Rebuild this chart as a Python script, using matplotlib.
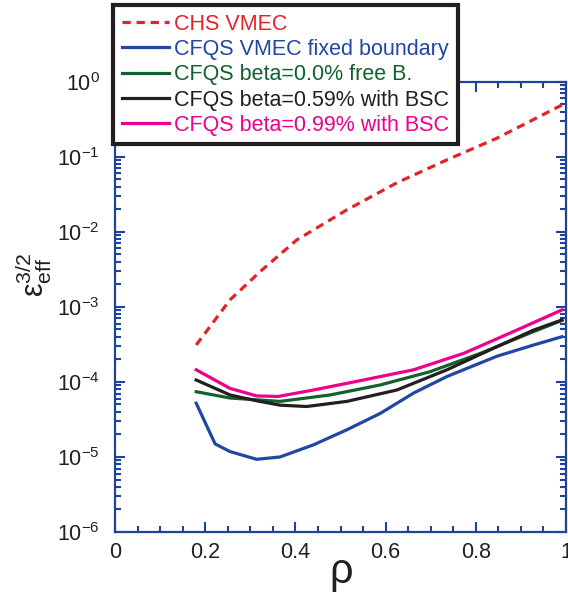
import matplotlib
matplotlib.use("Agg")
import matplotlib.pyplot as plt
import numpy as np
from matplotlib.ticker import MultipleLocator, LogLocator, NullFormatter

plt.rcParams['font.family'] = ['Liberation Sans', 'DejaVu Sans']
plt.rcParams['mathtext.fontset'] = 'custom'
plt.rcParams['mathtext.rm'] = 'Liberation Sans'
plt.rcParams['mathtext.it'] = 'Liberation Sans:italic'
plt.rcParams['mathtext.bf'] = 'Liberation Sans:bold'
plt.rcParams['axes.unicode_minus'] = False

# Data
rho_chs = [0.18, 0.255, 0.322, 0.403, 0.514, 0.625, 0.736, 0.847, 0.991]
eps_chs = [3.1e-4, 1.24e-3, 2.96e-3, 7.8e-3, 1.96e-2, 4.5e-2, 9.1e-2, 0.177, 0.49]

rho_fixed = [0.18, 0.222, 0.255, 0.314, 0.366, 0.44, 0.514, 0.588, 0.662, 0.736, 0.847, 0.928, 0.991]
eps_fixed = [5.2e-5, 1.49e-5, 1.18e-5, 9.3e-6, 1.0e-5, 1.45e-5, 2.3e-5, 3.8e-5, 7.1e-5, 1.18e-4, 2.2e-4, 3.1e-4, 4.0e-4]

rho_free = [0.18, 0.255, 0.366, 0.477, 0.588, 0.699, 0.81, 0.921, 0.991]
eps_free = [7.4e-5, 6.1e-5, 5.5e-5, 6.7e-5, 9.1e-5, 1.37e-4, 2.4e-4, 4.5e-4, 6.6e-4]

rho_b059 = [0.18, 0.255, 0.314, 0.366, 0.425, 0.514, 0.625, 0.736, 0.847, 0.928, 0.991]
eps_b059 = [1.06e-4, 6.7e-5, 5.6e-5, 4.9e-5, 4.7e-5, 5.5e-5, 7.8e-5, 1.45e-4, 2.95e-4, 4.9e-4, 6.7e-4]

rho_b099 = [0.18, 0.255, 0.314, 0.362, 0.44, 0.551, 0.662, 0.773, 0.884, 0.991]
eps_b099 = [1.45e-4, 8.2e-5, 6.5e-5, 6.4e-5, 7.8e-5, 1.06e-4, 1.45e-4, 2.4e-4, 4.7e-4, 9.1e-4]

labels = ["CHS VMEC", "CFQS VMEC fixed boundary", "CFQS beta=0.0% free B.",
          "CFQS beta=0.59% with BSC", "CFQS beta=0.99% with BSC"]
colors = ["#e1242a", "#1f47a3", "#13612e", "#231f20", "#ec008c"]

axis_blue = "#1d449a"
text_col = "#231f20"

fig = plt.figure(figsize=(5.68, 5.97), dpi=100)
ax = fig.add_axes([0.2025, 0.1089, 0.794, 0.7542])

lw = 2.3
ax.plot(rho_chs, eps_chs, color=colors[0], lw=lw, linestyle=(0, (2.6, 1.8)), label=labels[0])
ax.plot(rho_fixed, eps_fixed, color=colors[1], lw=lw, label=labels[1])
ax.plot(rho_free, eps_free, color=colors[2], lw=lw, label=labels[2])
ax.plot(rho_b059, eps_b059, color=colors[3], lw=lw, label=labels[3])
ax.plot(rho_b099, eps_b099, color=colors[4], lw=lw, label=labels[4])

ax.set_yscale("log")
ax.set_xlim(0, 1)
ax.set_ylim(1e-6, 1)

ax.xaxis.set_minor_locator(MultipleLocator(0.05))
ax.set_xticks([0, 0.2, 0.4, 0.6, 0.8, 1.0])
ax.set_xticklabels(["0", "0.2", "0.4", "0.6", "0.8", "1"])
ax.yaxis.set_major_locator(LogLocator(base=10, numticks=20))
ax.yaxis.set_minor_locator(LogLocator(base=10, subs=np.arange(2, 10), numticks=20))
ax.yaxis.set_minor_formatter(NullFormatter())

for s in ax.spines.values():
    s.set_color(axis_blue)
    s.set_linewidth(1.6)

ax.tick_params(which="both", direction="in", top=True, right=True,
               color=axis_blue, width=1.5, labelsize=15.5, labelcolor=text_col)
ax.tick_params(which="major", length=7.5)
ax.tick_params(which="minor", length=4.5)
ax.tick_params(axis="x", which="both", pad=7)
ax.tick_params(axis="y", which="both", pad=11)

fig.text(341 / 568, 1 - 572 / 597, "ρ", fontsize=30, color=text_col,
         ha="center", va="center")
fig.text(34 / 568, 1 - 275 / 597, r"$\mathrm{ε}^{3/2}_{\mathrm{eff}}$", fontsize=22,
         color=text_col, rotation=90, ha="center", va="center")

leg = fig.legend(loc="upper left", bbox_to_anchor=(113 / 568, 1 - 5 / 597),
                 fontsize=15.5, frameon=True, fancybox=False, framealpha=1,
                 edgecolor="#231f20", handlelength=2.2, handletextpad=0.25,
                 labelspacing=0.2, borderpad=0.4, borderaxespad=0)
leg.get_frame().set_linewidth(3)
for txt, c in zip(leg.get_texts(), colors):
    txt.set_color(c)

fig.savefig("out.png", dpi=100)
